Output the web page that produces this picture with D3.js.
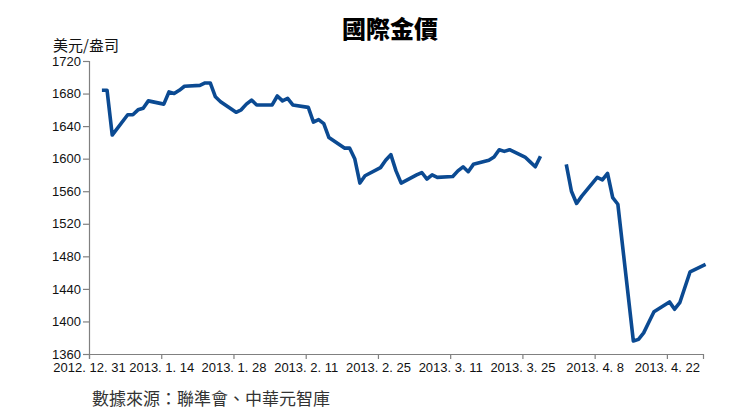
<!DOCTYPE html>
<html>
<head>
<meta charset="utf-8">
<script src="https://cdn.jsdelivr.net/npm/d3@7"></script>
<style>
  html, body { margin: 0; padding: 0; background: #fff; }
  svg { display: block; }
</style>
</head>
<body>
<svg id="chart" width="751" height="420"></svg>
<script>
const title = "國際金價";
const unitLabel = "美元/盎司";
const sourceNote = "數據來源：聯準會、中華元智庫";

const dates = [
  "2013-01-02","2013-01-03","2013-01-04","2013-01-07","2013-01-08","2013-01-09","2013-01-10","2013-01-11",
  "2013-01-14","2013-01-15","2013-01-16","2013-01-17","2013-01-18","2013-01-21","2013-01-22","2013-01-23",
  "2013-01-24","2013-01-25","2013-01-28","2013-01-29","2013-01-30","2013-01-31","2013-02-01","2013-02-04",
  "2013-02-05","2013-02-06","2013-02-07","2013-02-08","2013-02-11","2013-02-12","2013-02-13","2013-02-14",
  "2013-02-15","2013-02-18","2013-02-19","2013-02-20","2013-02-21","2013-02-22","2013-02-25","2013-02-26",
  "2013-02-27","2013-02-28","2013-03-01","2013-03-04","2013-03-05","2013-03-06","2013-03-07","2013-03-08",
  "2013-03-11","2013-03-12","2013-03-13","2013-03-14","2013-03-15","2013-03-18","2013-03-19","2013-03-20",
  "2013-03-21","2013-03-22","2013-03-25","2013-03-26","2013-03-27","2013-03-28","2013-03-29","2013-04-01",
  "2013-04-02","2013-04-03","2013-04-04","2013-04-05","2013-04-08","2013-04-09","2013-04-10","2013-04-11",
  "2013-04-12","2013-04-15","2013-04-16","2013-04-17","2013-04-18","2013-04-19","2013-04-22","2013-04-23",
  "2013-04-24","2013-04-25","2013-04-26","2013-04-29"
];
const goldPrice = [
  1684,1684,1629,1654,1654,1660,1662,1671,
  1667,1682,1680,1684,1689,1690,1693,1693,
  1676,1670,1657,1660,1667,1672,1666,1666,
  1677,1671,1674,1666,1663,1645,1648,1643,
  1626,1613,1613,1600,1570,1579,1589,1598,
  1605,1585,1570,1580,1583,1575,1580,1577,
  1578,1585,1590,1584,1593,1598,1602,1611,
  1609,1611,1602,1596,1590,1603,null,null,
  1593,1560,1545,1554,1577,1574,1582,1552,
  1544,1376,1378,1386,1399,1412,1424,1415,
  1423,1442,1461,1470
];
const xTickDates = ["2012-12-31","2013-01-14","2013-01-28","2013-02-11","2013-02-25","2013-03-11","2013-03-25","2013-04-08","2013-04-22"];
const xTickLabels = ["2012. 12. 31","2013. 1. 14","2013. 1. 28","2013. 2. 11","2013. 2. 25","2013. 3. 11","2013. 3. 25","2013. 4. 8","2013. 4. 22"];
const yTicks = [1360,1400,1440,1480,1520,1560,1600,1640,1680,1720];
const xDomain = ["2012-12-31","2013-04-29"];
const yDomain = [1360,1720];

const parse = d3.timeParse("%Y-%m-%d");
const data = dates.map((d, i) => ({ date: d3.timeHour.offset(parse(d), 12), value: goldPrice[i] }));

const svg = d3.select("#chart");
const plotLeft = 89, plotRight = 703, plotTop = 61, plotBottom = 354;

const x = d3.scaleTime().domain(xDomain.map(parse)).range([plotLeft, plotRight]);
const y = d3.scaleLinear().domain(yDomain).range([plotBottom, plotTop]);

const cjk = "'Noto Sans CJK TC','Noto Sans CJK SC',sans-serif";
const latin = "'Liberation Sans',Arial,sans-serif";

// Title
svg.append("text")
  .attr("x", 390).attr("y", 38)
  .attr("text-anchor", "middle")
  .attr("font-family", cjk).attr("font-weight", "900")
  .attr("font-size", 24).attr("fill", "#000")
  .text(title);

// Unit label
svg.append("text")
  .attr("x", 53).attr("y", 51)
  .attr("font-family", cjk).attr("font-size", 15).attr("fill", "#111")
  .text(unitLabel);

// Y axis
const yAxis = svg.append("g")
  .attr("transform", `translate(${plotLeft},0)`)
  .call(d3.axisLeft(y).tickValues(yTicks).tickFormat(d3.format("d")).tickSize(6).tickSizeOuter(6).tickPadding(2));
yAxis.select(".domain").attr("stroke", "#808080").attr("stroke-width", 1.2);
yAxis.selectAll(".tick line").attr("stroke", "#808080").attr("stroke-width", 1.2);
yAxis.selectAll(".tick text").attr("font-family", latin).attr("font-size", 13).attr("fill", "#111");

// X axis
const xAxis = svg.append("g")
  .attr("transform", `translate(0,${plotBottom})`)
  .call(d3.axisBottom(x)
    .tickValues(xTickDates.map(parse))
    .tickFormat((d, i) => xTickLabels[i])
    .tickSize(5).tickSizeOuter(5).tickPadding(4));
xAxis.select(".domain").attr("stroke", "#808080").attr("stroke-width", 1.2);
xAxis.selectAll(".tick line").attr("stroke", "#808080").attr("stroke-width", 1.2);
xAxis.selectAll(".tick text").attr("font-family", latin).attr("font-size", 13).attr("fill", "#111");

// Line
const line = d3.line()
  .defined(d => d.value !== null)
  .x(d => x(d.date))
  .y(d => y(d.value));

svg.append("path")
  .datum(data)
  .attr("fill", "none")
  .attr("stroke", "#0b4a92")
  .attr("stroke-width", 3.6)
  .attr("stroke-linejoin", "round")
  .attr("d", line);

// Source note
svg.append("text")
  .attr("x", 92).attr("y", 405)
  .attr("font-family", cjk).attr("font-size", 17).attr("fill", "#333")
  .text(sourceNote);
</script>
</body>
</html>
